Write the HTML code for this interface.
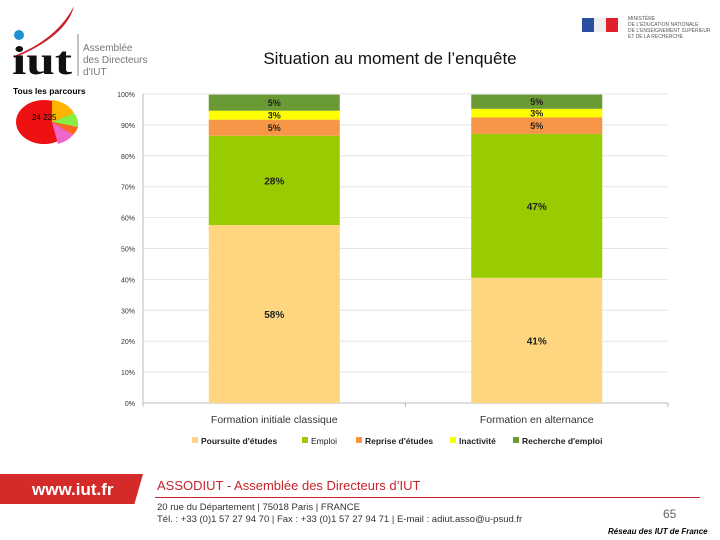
<!DOCTYPE html>
<html><head><meta charset="utf-8"><style>
body{margin:0;width:720px;height:540px;background:#fff;position:relative;overflow:hidden;font-family:"Liberation Sans",sans-serif}
.abs{position:absolute}
</style></head><body>
<div class="abs" style="left:12px;top:4px;width:140px;height:80px">
 <svg width="140" height="80"><circle cx="7" cy="31" r="5" fill="#1e8fd0"/>
 <path d="M2 52 Q45 35 62 2 Q55 32 2 54Z" fill="#c8242c"/>
 <text x="0" y="70" font-family="Liberation Serif,serif" font-size="40" font-weight="bold" fill="#111" textLength="60" lengthAdjust="spacingAndGlyphs">iut</text>
 <line x1="66" y1="30" x2="66" y2="72" stroke="#888"/>
 <text x="71" y="47" font-size="10" fill="#777">Assemblée</text><text x="71" y="59" font-size="10" fill="#777">des Directeurs</text><text x="71" y="71" font-size="10" fill="#777">d'IUT</text></svg>
</div>
<div class="abs" style="left:13px;top:86px;font-size:8.5px;font-weight:bold">Tous les parcours</div>
<svg class="abs" style="left:8px;top:96px" width="75" height="52">
 <ellipse cx="36" cy="26" rx="28" ry="22" fill="#ee1111"/>
 <path d="M44 26 L44 4 A28 22 0 0 1 66 17Z" fill="#ffb400"/>
 <path d="M44 26 L66 17 A28 22 0 0 1 70 31Z" fill="#88ee44"/>
 <path d="M44 26 L70 31 A28 22 0 0 1 65 39Z" fill="#ff6622"/>
 <path d="M44 26 L65 39 A28 22 0 0 1 50 48Z" fill="#ee66cc"/>
 <text x="24" y="24" font-size="8">24 225</text></svg>
<div class="abs" style="left:580px;top:16px;width:135px;height:30px">
 <div class="abs" style="left:2px;top:2px;width:12px;height:14px;background:#2b4fa0"></div>
 <div class="abs" style="left:14px;top:2px;width:12px;height:14px;background:#eee"></div>
 <div class="abs" style="left:26px;top:2px;width:12px;height:14px;background:#e0202a"></div>
 <div class="abs" style="left:48px;top:0;font-size:5px;line-height:6px;color:#555">MINISTÈRE<br>DE L'ÉDUCATION NATIONALE<br>DE L'ENSEIGNEMENT SUPÉRIEUR<br>ET DE LA RECHERCHE</div>
</div>
<div class="abs" style="left:0;width:780px;top:49px;text-align:center;font-size:17px;color:#111">Situation au moment de l’enquête</div>
<svg id="chart" class="abs" style="left:0;top:0" width="720" height="540"></svg>
<div class="abs" style="left:0;top:474px;width:143px;height:30px;background:#d42a2a;clip-path:polygon(0 0,100% 0,94% 100%,0 100%)"><div style="color:#fff;font-weight:bold;font-size:17px;padding:6px 0 0 32px">www.iut.fr</div></div>
<div class="abs" style="left:157px;top:478px;font-size:13px;color:#c8242c">ASSODIUT - Assemblée des Directeurs d’IUT</div>
<div class="abs" style="left:155px;top:497px;width:545px;height:1px;background:#c8242c"></div>
<div class="abs" style="left:157px;top:502px;font-size:9.5px;color:#333;line-height:12px">20 rue du Département | 75018 Paris | FRANCE<br>Tél. : +33 (0)1 57 27 94 70 | Fax : +33 (0)1 57 27 94 71 | E-mail : adiut.asso@u-psud.fr</div>
<div class="abs" style="left:663px;top:507px;font-size:12px;color:#666">65</div>
<div class="abs" style="left:608px;top:527px;font-size:8px;font-weight:bold;font-style:italic">Réseau des IUT de France</div>
<script>
const categories=["Formation initiale classique","Formation en alternance"];
const seriesNames=["Poursuite d'études","Emploi","Reprise d'études","Inactivité","Recherche d'emploi"];
const seriesColors=["#fdd67f","#99cc00","#f79646","#ffff00","#6a9a34"];
const poursuite=[57.6,40.5];
const emploi=[28.9,46.6];
const reprise=[5.2,5.3];
const inactivite=[2.9,2.8];
const recherche=[5.2,4.6];
const labPoursuite=["58%","41%"],labEmploi=["28%","47%"],labReprise=["5%","5%"],labInact=["3%","3%"],labRech=["5%","5%"];
const yTicks=[0,10,20,30,40,50,60,70,80,90,100];
const NS="http://www.w3.org/2000/svg",svg=document.getElementById('chart');
const x0=143,x1=668,yb=403,yt=94;
const y=v=>yb-(v/100)*(yb-yt);
const bandW=(x1-x0)/categories.length, barW=131;
const xc=i=>x0+bandW*(i+0.5);
function mk(t,a){const e=document.createElementNS(NS,t);for(const k in a)e.setAttribute(k,a[k]);svg.appendChild(e);return e;}
yTicks.forEach(t=>{
 const g=mk('line',{x1:x0,x2:x1,y1:y(t),y2:y(t),stroke:t===0?'#bbb':'#e4e4e4'});
 
 
 const l=mk('text',{x:x0-8,y:y(t)+3,'text-anchor':'end','font-size':7,fill:'#333'});l.textContent=t+'%';
 
 
});
mk('line',{x1:x0,x2:x0,y1:yt,y2:yb,stroke:'#bbb'});
[x0,(x0+x1)/2,x1].forEach(xx=>mk('line',{x1:xx,x2:xx,y1:yb,y2:yb+4,stroke:'#bbb'}));
const series=[poursuite,emploi,reprise,inactivite,recherche];
const labs=[labPoursuite,labEmploi,labReprise,labInact,labRech];
categories.forEach((c,i)=>{
 let base=0;
 series.forEach((s,k)=>{
  const top=base+s[i];
  const r=mk('rect',{x:xc(i)-barW/2,y:y(top),width:barW,height:y(base)-y(top),fill:seriesColors[k]});
  
  
  const t=mk('text',{x:xc(i),y:(y(top)+y(base))/2+(k>=2?3.5:4),'text-anchor':'middle','font-size':k>=2?9:10,'font-weight':'bold',fill:'#222'});
  t.textContent=labs[k][i];
  
  
  base=top;
 });
 const cl=mk('text',{x:xc(i),y:423,'text-anchor':'middle','font-size':10.5,fill:'#333'});cl.textContent=c;
 
 
});
const lx=[192,302,356,450,513];
seriesNames.forEach((n,k)=>{
 const r=mk('rect',{x:lx[k],y:437,width:6,height:6,fill:seriesColors[k]});
 
 
 const t=mk('text',{x:lx[k]+9,y:444,'font-size':8.5,fill:'#222','font-weight':k===1?'normal':'bold'});t.textContent=n;
 
 
});
</script>
</body></html>
